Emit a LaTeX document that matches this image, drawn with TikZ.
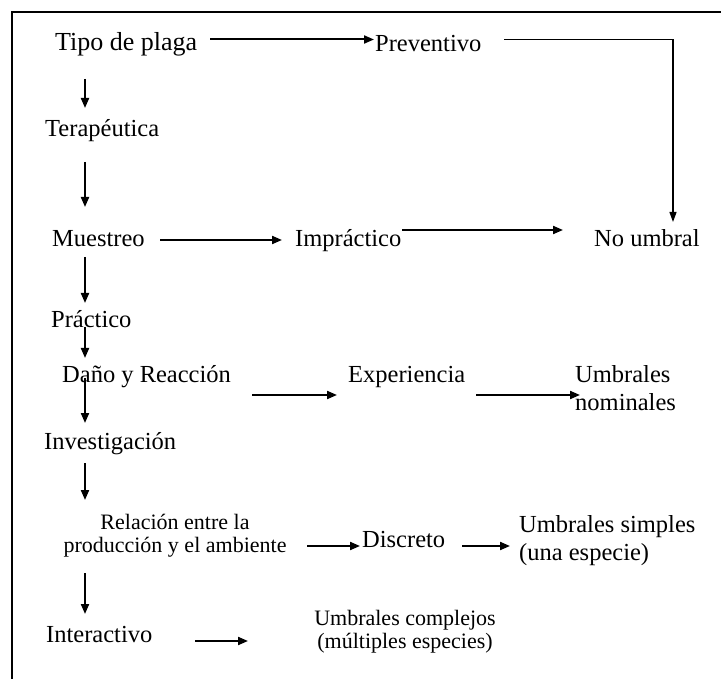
\documentclass[tikz,border=0pt]{standalone}
\usepackage{fontspec}
\setmainfont{Liberation Serif}
\usetikzlibrary{arrows.meta}
\begin{document}
\begin{tikzpicture}[x=1pt,y=-1pt,
 lbl/.style={anchor=base west,inner sep=0pt,font=\fontsize{24.5}{28}\selectfont},
 small/.style={anchor=base,inner sep=0pt,align=center,font=\fontsize{22}{23}\selectfont},
 arr/.style={line width=2pt,-{Triangle[length=10pt,width=8pt]}},
 thinarr/.style={line width=1.2pt,-{Triangle[length=10pt,width=7pt]}},
 frame/.style={line width=2pt}]
\useasboundingbox (0,0) rectangle (721,679);
% frame
\coordinate (fbl) at (11.5,679);
\coordinate (ftl) at (11.5,12);
\coordinate (ftr) at (721,12);
\draw[frame] (fbl) -- (ftl) -- (ftr);
% nodes
\node[lbl,font=\fontsize{26}{30}\selectfont] (tipo) at (55,51) {Tipo de plaga};
\node[lbl] (prev) at (375,52) {Preventivo};
\node[lbl] (nou) at (594,247) {No umbral};
\node[lbl] (tera) at (45,137) {Terapéutica};
\node[lbl] (mues) at (52,247) {Muestreo};
\node[lbl] (impr) at (295,247) {Impráctico};
\node[lbl] (prac) at (51,327) {Práctico};
\node[lbl] (dano) at (62,383) {Daño y Reacción};
\node[lbl] (expe) at (348,382) {Experiencia};
\node[lbl,align=left] (nomi) at (575,410) {Umbrales\\nominales};
\node[lbl] (inve) at (44,449) {Investigación};
\node[small] (rela) at (175,552) {Relación entre la\\producción y el ambiente};
\node[lbl] (disc) at (362,547) {Discreto};
\node[lbl,align=left] (simp) at (519,560) {Umbrales simples\\(una especie)};
\node[lbl] (inte) at (46,642) {Interactivo};
\node[small] (comp) at (405,648) {Umbrales complejos\\(múltiples especies)};
% connector end points
\coordinate (tipoR) at (210,39.5);   \coordinate (prevL) at (374,39.5);
\coordinate (prevR) at (504,39.5);   \coordinate (corner) at (673,39.5);
\coordinate (nouT) at (673,222);
\coordinate (tipoB) at (85,79);      \coordinate (teraT) at (85,108);
\coordinate (teraB) at (85,162);     \coordinate (muesT) at (85,207);
\coordinate (muesR) at (160,240);    \coordinate (imprL) at (282,240);
\coordinate (imprR) at (402,230);    \coordinate (nouL) at (563,230);
\coordinate (muesB) at (85,257);     \coordinate (pracT) at (85,303);
\coordinate (pracB) at (85,327);     \coordinate (danoT) at (85,358);
\coordinate (danoB) at (85,378);     \coordinate (inveT) at (85,423);
\coordinate (danoR) at (252,395);    \coordinate (expeL) at (337,395);
\coordinate (expeR) at (476,395);    \coordinate (nomiL) at (580,395);
\coordinate (inveB) at (85,463);     \coordinate (relaT) at (85,500);
\coordinate (relaR) at (307,546);    \coordinate (discL) at (360,546);
\coordinate (discR) at (462,546);    \coordinate (simpL) at (510,546);
\coordinate (relaB) at (85,573);     \coordinate (inteT) at (85,614);
\coordinate (inteR) at (195,641);    \coordinate (compL) at (248,641);
% connectors
\draw[arr] (tipoR) -- (prevL);
\draw[thinarr] (prevR) -- (corner) -- (nouT);
\draw[arr] (tipoB) -- (teraT);
\draw[arr] (teraB) -- (muesT);
\draw[arr] (muesR) -- (imprL);
\draw[arr] (imprR) -- (nouL);
\draw[arr] (muesB) -- (pracT);
\draw[arr] (pracB) -- (danoT);
\draw[arr] (danoB) -- (inveT);
\draw[arr] (danoR) -- (expeL);
\draw[arr] (expeR) -- (nomiL);
\draw[arr] (inveB) -- (relaT);
\draw[arr] (relaR) -- (discL);
\draw[arr] (discR) -- (simpL);
\draw[arr] (relaB) -- (inteT);
\draw[arr] (inteR) -- (compL);
\end{tikzpicture}
\end{document}
